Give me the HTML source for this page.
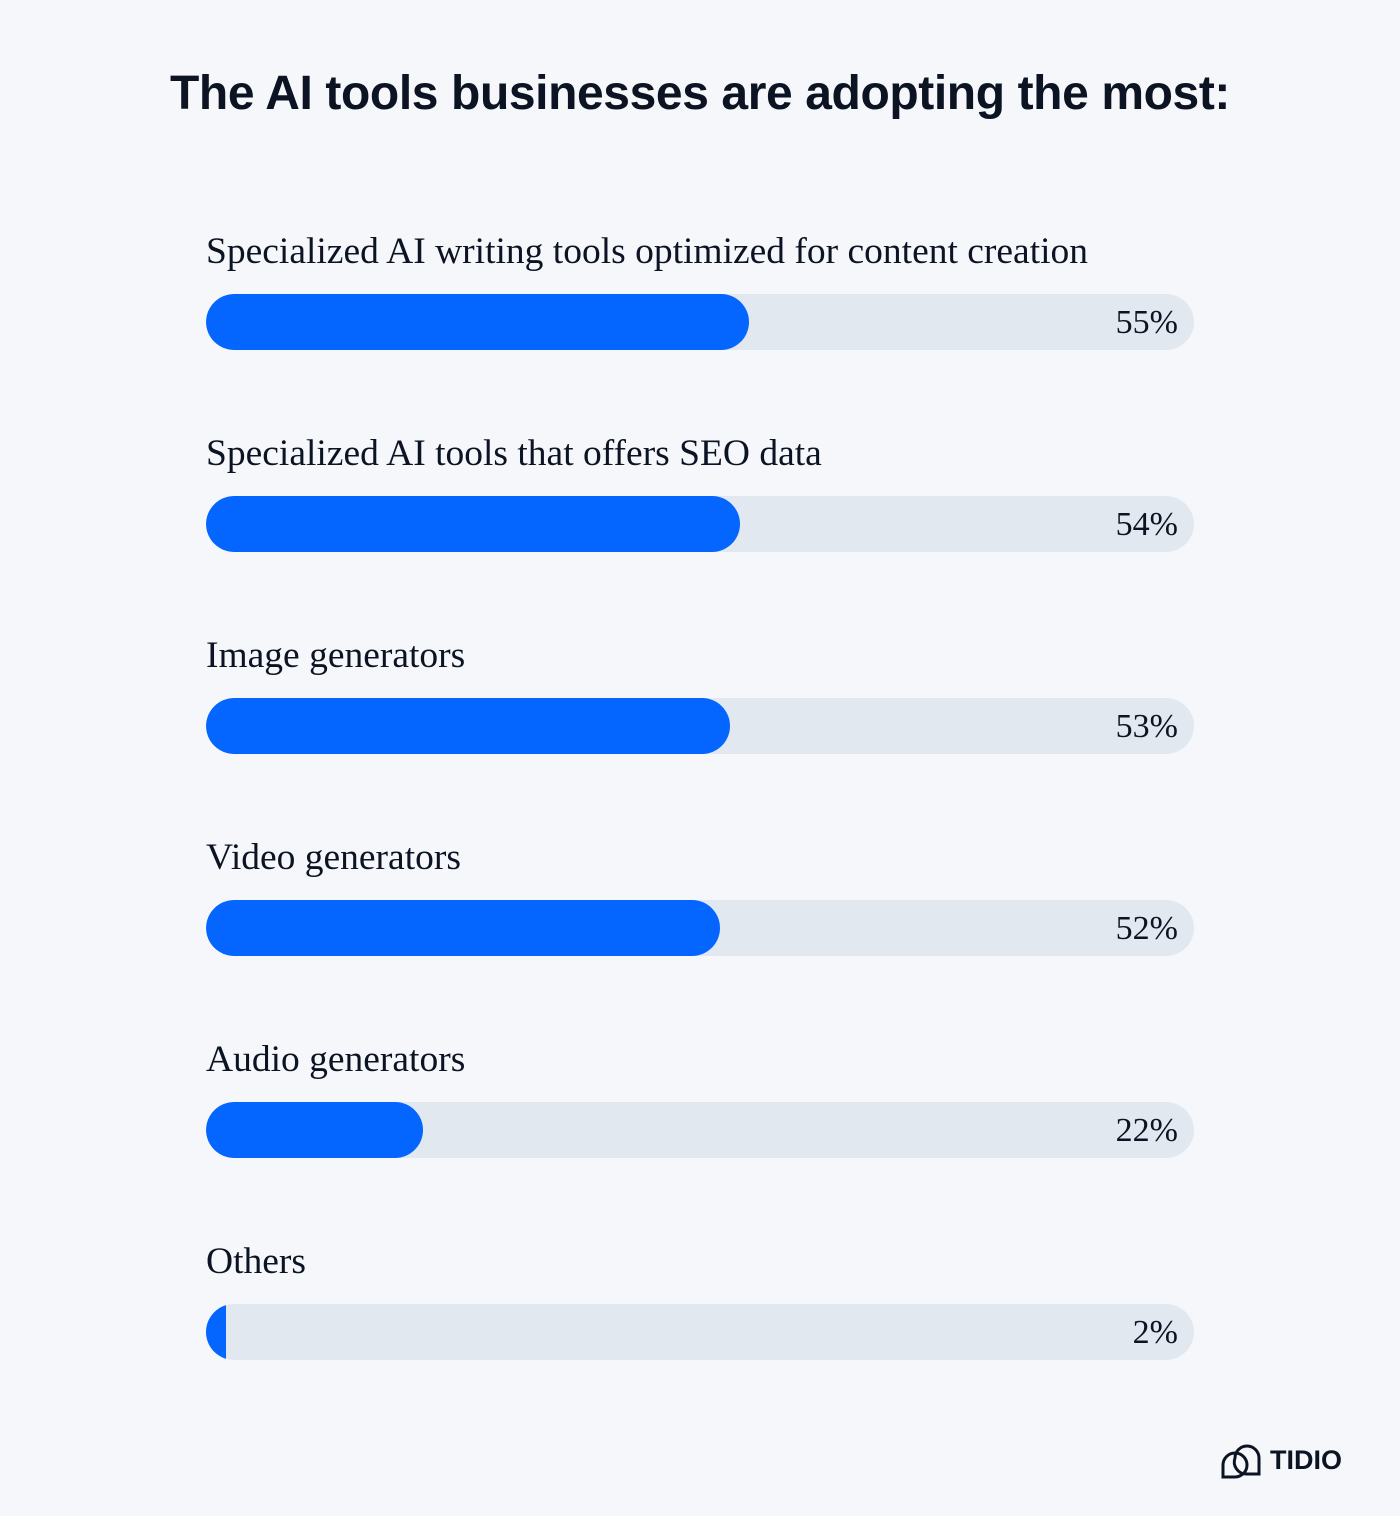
<!DOCTYPE html>
<html><head><meta charset="utf-8"><style>
body{margin:0;background:#f5f7fa;width:1400px;height:1516px;position:relative;overflow:hidden;font-family:"Liberation Serif",serif;color:#0c1424}
h1{position:absolute;left:0;width:1400px;top:66px;margin:0;text-align:center;font:bold 48px "Liberation Sans",sans-serif;letter-spacing:-0.4px;color:#0c1424}
.label{position:absolute;left:206px;font-size:37.5px;line-height:40px;white-space:nowrap}
.track{position:absolute;left:206px;width:988px;height:56px;border-radius:28px;background:#e1e8f0;overflow:hidden}
.fill{position:absolute;left:0;top:0;height:56px;background:#0566ff}
.val{position:absolute;right:16px;top:1px;line-height:56px;font-size:34px}
</style></head><body>
<h1>The AI tools businesses are adopting the most:</h1>
<div id="chart"></div>
<svg style="position:absolute;left:1220px;top:1438px" width="124" height="44" viewBox="0 0 124 44">
<path d="M15 20 A12 12 0 1 1 39 20 L39 36 L26 36 A12 12 0 0 1 15 20Z" fill="none" stroke="#0c1424" stroke-width="3"/>
<path d="M3 38 L3 27 A12 12 0 1 1 15 39 L3 39Z" fill="none" stroke="#0c1424" stroke-width="3"/>
<text x="50" y="31" font-family="Liberation Sans, sans-serif" font-weight="bold" font-size="27" fill="#0c1424">TIDIO</text>
</svg>
<script>
const categories=["Specialized AI writing tools optimized for content creation","Specialized AI tools that offers SEO data","Image generators","Video generators","Audio generators","Others"];
const values=[55,54,53,52,22,2];
const chart=document.getElementById('chart');
const x=v=>v/100*988;
categories.forEach((c,i)=>{
  const top=294+i*202;
  const l=document.createElement('div');l.className='label';l.style.top=(top-62)+'px';l.textContent=c;
  
  
  chart.appendChild(l);
  const t=document.createElement('div');t.className='track';t.style.top=top+'px';
  
  
  const f=document.createElement('div');f.className='fill';const w=x(values[i]);f.style.width=w+'px';
  f.style.borderRadius=w<56?'28px 0 0 28px':'28px';
  
  
  t.appendChild(f);
  const v=document.createElement('div');v.className='val';v.textContent=values[i]+'%';
  
  
  t.appendChild(v);
  chart.appendChild(t);
});
</script>
</body></html>
